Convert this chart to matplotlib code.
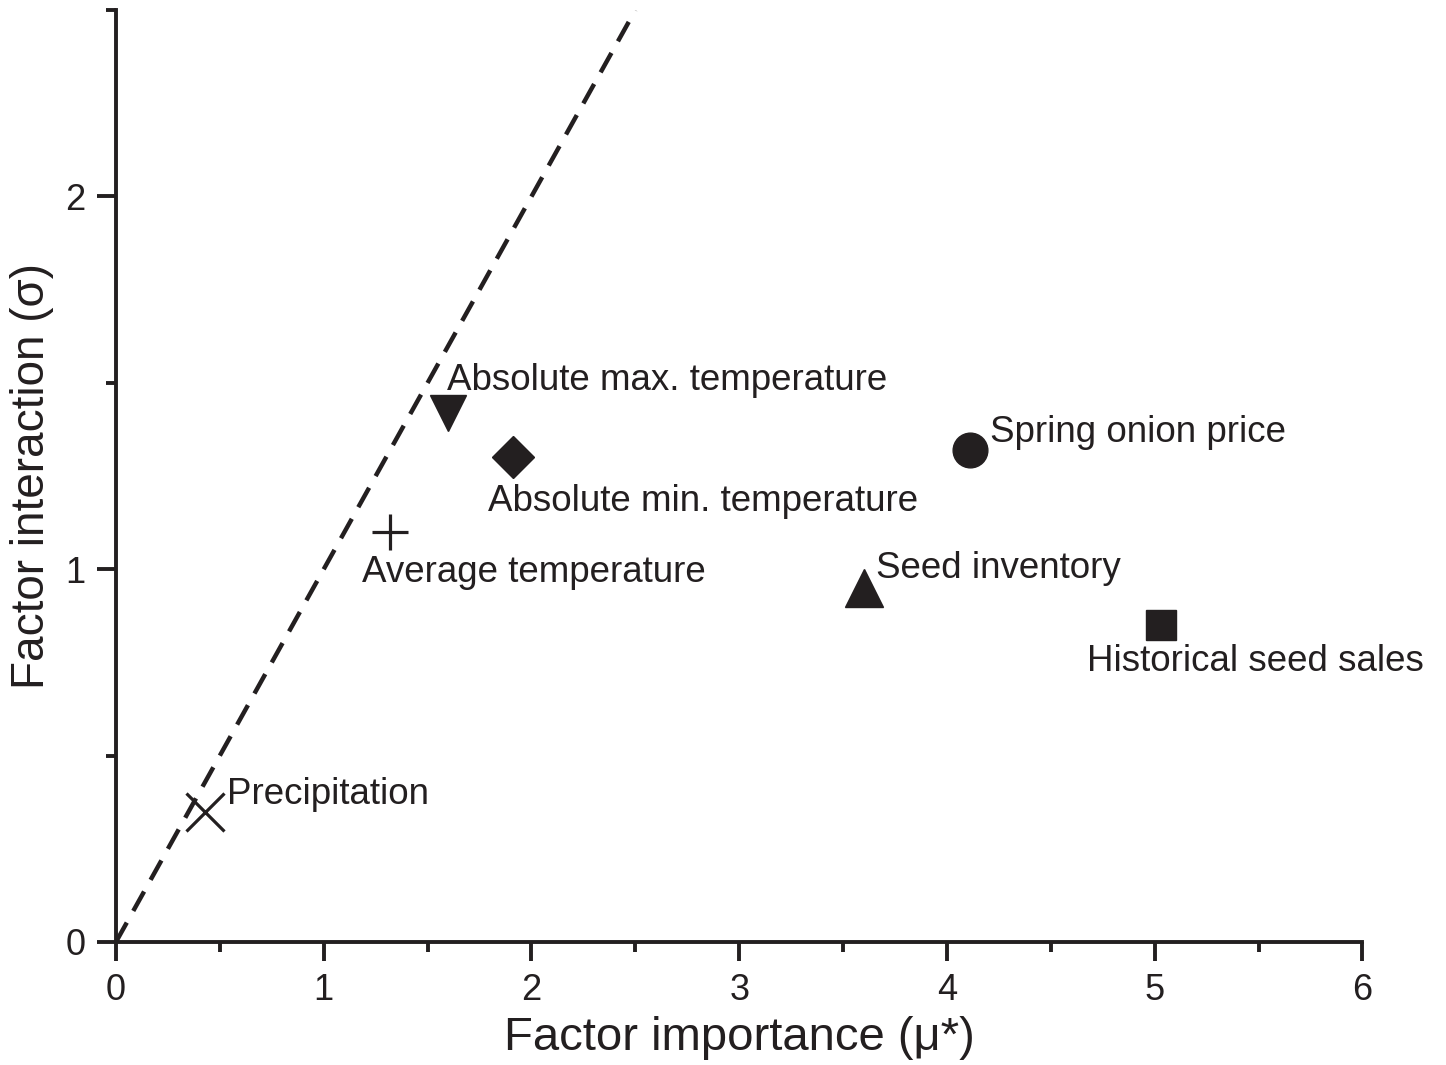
import numpy as np
import matplotlib
matplotlib.use('Agg')
import matplotlib.pyplot as plt
from matplotlib.ticker import MultipleLocator

plt.rcParams['font.family'] = ['Liberation Sans', 'DejaVu Sans']

# data
factors = ['Precipitation', 'Average temperature', 'Absolute max. temperature',
           'Absolute min. temperature', 'Spring onion price', 'Seed inventory',
           'Historical seed sales']
mu_star = [0.43, 1.32, 1.60, 1.91, 4.11, 3.60, 5.03]
sigma = [0.35, 1.10, 1.42, 1.30, 1.32, 0.95, 0.85]
line_x = [0, 2.5]
line_y = [0, 2.5]

# styling per point: marker, size, text offset (px)
markers = ['x', '+', 'v', 'D', 'o', '^', 's']
msizes = [28, 26, 26, 21, 25, 27, 21]
offsets = [(22, 17), (-28, -41), (-1, 32), (-25, -44), (20, 17), (12, 19), (-74, -36)]

INK = '#231f20'

fig = plt.figure(figsize=(14.46, 10.65), dpi=100)
ax = fig.add_axes([0.0802, 0.1155, 0.862, 0.875])

ax.plot(line_x, line_y, color=INK, lw=3.2, ls=(0, (5, 3)), zorder=1)

for name, x, y, m, s, (dx, dy) in zip(factors, mu_star, sigma, markers, msizes, offsets):
    mew = 2.3 if m in ('x', '+') else 1
    ax.plot(x, y, marker=m, ms=s, color=INK, mec=INK, mew=mew, ls='none', zorder=3)
    ax.annotate(name, (x, y), xytext=(dx, dy), textcoords='offset pixels',
                ha='left', va='center', fontsize=26.5, color=INK)

ax.set_xlim(0, 6)
ax.set_ylim(0, 2.5)
ax.xaxis.set_major_locator(MultipleLocator(1))
ax.xaxis.set_minor_locator(MultipleLocator(0.5))
ax.yaxis.set_major_locator(MultipleLocator(1))
ax.yaxis.set_minor_locator(MultipleLocator(0.5))

for sp in ('top', 'right'):
    ax.spines[sp].set_visible(False)
for sp in ('left', 'bottom'):
    ax.spines[sp].set_linewidth(2.8)
    ax.spines[sp].set_color(INK)
ax.tick_params(which='major', direction='out', length=14, width=2.8, color=INK,
               labelsize=26, labelcolor=INK, pad=8)
ax.tick_params(which='minor', direction='out', length=7, width=2.8, color=INK)

ax.set_xlabel('Factor importance (\u03bc*)', fontsize=34, color=INK, labelpad=6)
ax.set_ylabel('Factor interaction (\u03c3)', fontsize=33, color=INK, labelpad=8)

fig.savefig('out.png', dpi=100)
